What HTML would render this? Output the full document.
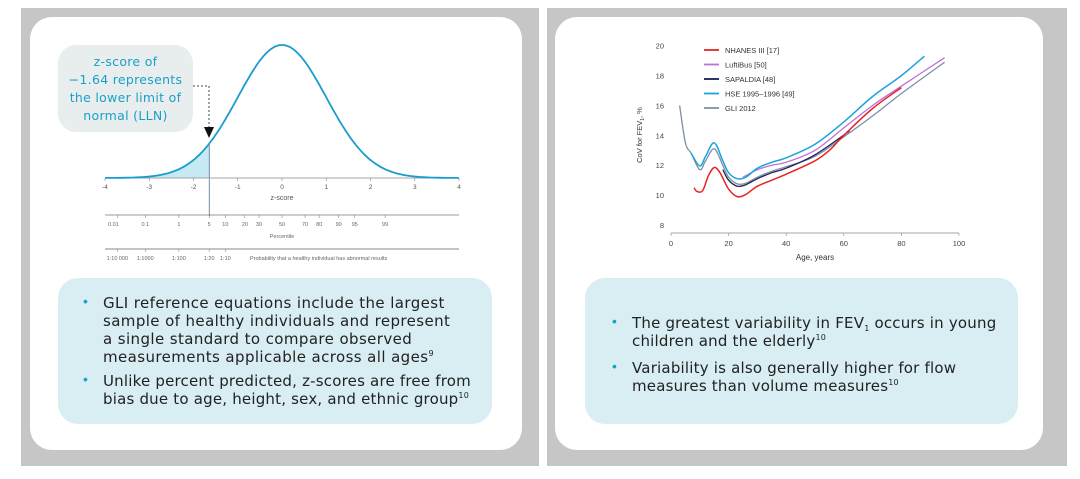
<!DOCTYPE html>
<html><head><meta charset="utf-8"><style>
body{margin:0;width:1080px;height:479px;background:#fff;position:relative;overflow:hidden;font-family:"Liberation Sans","DejaVu Sans",sans-serif}
.frame{position:absolute;background:#c6c6c6}
.card{position:absolute;background:#fff;border-radius:22px}
.box{position:absolute;background:#d8eef3;border-radius:20px}
.t{position:absolute;font-family:"DejaVu Sans",sans-serif;color:#222;font-size:15px;line-height:18px;letter-spacing:0.4px}
.b{position:absolute;color:#1aa0c8;font-size:14px}
sup{font-size:8px;vertical-align:baseline;position:relative;top:-6px;line-height:0}
sub{font-size:8px;vertical-align:baseline;position:relative;top:3px;line-height:0}
svg{position:absolute;left:0;top:0}
</style></head><body>
<div class="frame" style="left:21px;top:8px;width:518px;height:458px"></div>
<div class="frame" style="left:547px;top:8px;width:520px;height:458px"></div>
<div class="card" style="left:30px;top:17px;width:492px;height:433px"></div>
<div class="card" style="left:555px;top:17px;width:488px;height:433px"></div>
<div class="box" style="left:58px;top:278px;width:434px;height:146px"></div>
<div class="box" style="left:585px;top:278px;width:433px;height:146px"></div>
<div style="position:absolute;left:58px;top:45px;width:135px;height:87px;background:#e8eded;border-radius:18px"></div>
<div class="t" style="left:58px;top:53px;width:135px;text-align:center;color:#1aa0c8;font-size:12.5px;line-height:18px;letter-spacing:0.3px">z-score of<br>−1.64 represents<br>the lower limit of<br>normal (LLN)</div>

<div class="b" style="left:83px;top:293px">•</div>
<div class="t" style="left:103px;top:294px">GLI reference equations include the largest<br>sample of healthy individuals and represent<br>a single standard to compare observed<br>measurements applicable across all ages<sup>9</sup></div>
<div class="b" style="left:83px;top:371px">•</div>
<div class="t" style="left:103px;top:372px;letter-spacing:0.2px">Unlike percent predicted, z-scores are free from<br>bias due to age, height, sex, and ethnic group<sup>10</sup></div>

<div class="b" style="left:612px;top:313px">•</div>
<div class="t" style="left:632px;top:314px;letter-spacing:0.2px">The greatest variability in FEV<sub>1</sub> occurs in young<br>children and the elderly<sup>10</sup></div>
<div class="b" style="left:612px;top:358px">•</div>
<div class="t" style="left:632px;top:359px;letter-spacing:0.2px">Variability is also generally higher for flow<br>measures than volume measures<sup>10</sup></div>

<svg id="s" width="1080" height="479" font-family="Liberation Sans, sans-serif"></svg>
<script>
var s=document.getElementById('s'),h='';
function z2x(z){return 282+z*44.25}
function g(z){return 178-133*Math.exp(-z*z/2)}
var p='M'+z2x(-4)+',178';for(var z=-4;z<=-1.64;z+=0.02)p+=' L'+z2x(z).toFixed(1)+','+g(z).toFixed(1);
p+=' L'+z2x(-1.64)+','+g(-1.64)+' L'+z2x(-1.64)+',178Z';
h+='<path d="'+p+'" fill="#c6e9f3"/>';
h+='<line x1="105" y1="178" x2="459" y2="178" stroke="#888" stroke-width="0.8"/>';
p='M';for(z=-4;z<=4.001;z+=0.02)p+=z2x(z).toFixed(1)+','+g(z).toFixed(1)+' ';
h+='<path d="'+p+'" fill="none" stroke="#1a9ccc" stroke-width="1.8"/>';
h+='<line x1="209.4" y1="'+g(-1.64)+'" x2="209.4" y2="216" stroke="#8aa0b8" stroke-width="1.2"/>';
for(z=-4;z<=4;z++){h+='<line x1="'+z2x(z)+'" y1="178" x2="'+z2x(z)+'" y2="181" stroke="#888" stroke-width="0.6"/><text x="'+z2x(z)+'" y="189" font-size="6.5" fill="#555" text-anchor="middle">'+(z<0?'-'+(-z):z)+'</text>';}
h+='<text x="282" y="200" font-size="7" fill="#555" text-anchor="middle">z-score</text>';
h+='<line x1="105" y1="215" x2="459" y2="215" stroke="#777" stroke-width="0.8"/>';
var pc=[[-3.72,'0.01',-4],[-3.09,'0.1',0],[-2.33,'1',0],[-1.645,'5',0],[-1.28,'10',0],[-0.84,'20',0],[-0.52,'30',0],[0,'50',0],[0.52,'70',0],[0.84,'80',0],[1.28,'90',0],[1.645,'95',0],[2.33,'99',0]];
pc.forEach(function(a){var x=z2x(a[0]);h+='<line x1="'+x+'" y1="215" x2="'+x+'" y2="218" stroke="#777" stroke-width="0.5"/><text x="'+(x+a[2])+'" y="226" font-size="5.5" fill="#666" text-anchor="middle">'+a[1]+'</text>';});
h+='<text x="282" y="238" font-size="5.5" fill="#666" text-anchor="middle">Percentile</text>';
h+='<line x1="105" y1="249" x2="459" y2="249" stroke="#888" stroke-width="1"/>';
[[-3.72,'1:10 000'],[-3.09,'1:1000'],[-2.33,'1:100'],[-1.645,'1:20'],[-1.28,'1:10']].forEach(function(a){var x=z2x(a[0]);h+='<line x1="'+x+'" y1="249" x2="'+x+'" y2="252" stroke="#777" stroke-width="0.5"/><text x="'+x+'" y="260" font-size="5.5" fill="#666" text-anchor="middle">'+a[1]+'</text>';});
h+='<text x="250" y="260" font-size="5.5" fill="#666">Probability that a healthy individual has abnormal results</text>';
h+='<path d="M193,86 L209,86 L209,128" fill="none" stroke="#444" stroke-width="1" stroke-dasharray="2,2"/><path d="M204,127 L214,127 L209,138Z" fill="#111"/>';
function ax(a){return 671+2.88*a}function ay(v){return 225-14.94*(v-8)}
h+='<line x1="671" y1="233" x2="959" y2="233" stroke="#888" stroke-width="0.8"/>';
for(var a=0;a<=100;a+=20)h+='<line x1="'+ax(a)+'" y1="233" x2="'+ax(a)+'" y2="236" stroke="#888" stroke-width="0.6"/><text x="'+ax(a)+'" y="246" font-size="7.5" fill="#444" text-anchor="middle">'+a+'</text>';
for(var v=8;v<=20;v+=2)h+='<text x="664" y="'+(ay(v)+3)+'" font-size="7.5" fill="#444" text-anchor="end">'+v+'</text>';
h+='<text x="815" y="260" font-size="8" fill="#333" text-anchor="middle">Age, years</text>';
h+='<text transform="translate(642,135) rotate(-90)" font-size="7.5" fill="#333" text-anchor="middle">CoV for FEV<tspan font-size="5" dy="2">1</tspan><tspan dy="-2">, %</tspan></text>';
function line(pts,c,w){var P=pts.map(function(q){return[ax(q[0]),ay(q[1])]});var d='M'+P[0][0]+','+P[0][1];
for(var i=0;i<P.length-1;i++){var p0=P[i-1]||P[i],p1=P[i],p2=P[i+1],p3=P[i+2]||p2;
d+=' C'+(p1[0]+(p2[0]-p0[0])/6).toFixed(1)+','+(p1[1]+(p2[1]-p0[1])/6).toFixed(1)+' '+(p2[0]-(p3[0]-p1[0])/6).toFixed(1)+','+(p2[1]-(p3[1]-p1[1])/6).toFixed(1)+' '+p2[0].toFixed(1)+','+p2[1].toFixed(1);}
h+='<path d="'+d+'" fill="none" stroke="'+c+'" stroke-width="'+w+'"/>';}
line([[3,16],[5,13.5],[7,12.8],[10,11.7],[12,12.3],[15,13.1],[18,12],[20,11.2],[23,10.75],[26,10.8],[30,11.2],[35,11.6],[40,11.9],[50,12.6],[60,13.9],[70,15.3],[80,16.8],[95,18.9]],'#7d8fa8',1.3);
line([[25,11.2],[30,11.7],[35,12],[40,12.2],[50,13],[60,14.5],[70,16],[80,17.3],[95,19.2]],'#c070d8',1.3);
line([[18,11.7],[20,11],[23,10.6],[26,10.7],[30,11.1],[35,11.5],[40,11.8],[50,12.7],[62,14.3]],'#1a2050',1.3);
line([[7,12.8],[10,11.95],[12,12.6],[15,13.5],[18,12.3],[20,11.5],[23,11.1],[26,11.2],[30,11.8],[35,12.2],[40,12.5],[50,13.4],[60,14.9],[70,16.6],[80,18],[88,19.3]],'#1aa4dc',1.5);
line([[8,10.5],[9,10.25],[11,10.3],[13,11.3],[15,11.85],[17,11.5],[20,10.4],[23,9.9],[26,10.05],[30,10.6],[35,11],[40,11.4],[50,12.3],[55,13],[60,14],[70,15.8],[80,17.2]],'#e82424',1.5);
[['NHANES III [17]','#e82424'],['LuftiBus [50]','#c070d8'],['SAPALDIA [48]','#1a2050'],['HSE 1995–1996 [49]','#1aa4dc'],['GLI 2012','#7d8fa8']].forEach(function(l,i){var y=50+i*14.5;h+='<line x1="704" y1="'+y+'" x2="719" y2="'+y+'" stroke="'+l[1]+'" stroke-width="1.8"/><text x="725" y="'+(y+3)+'" font-size="7.5" fill="#333">'+l[0]+'</text>';});
s.innerHTML=h;
</script>
</body></html>
